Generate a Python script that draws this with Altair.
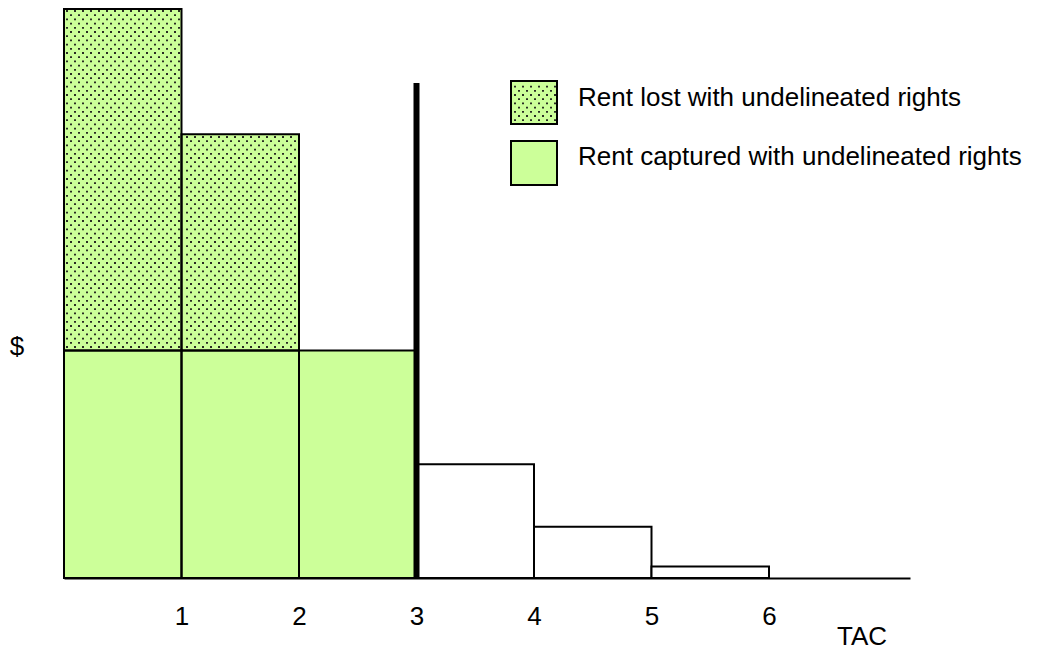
import altair as alt
import pandas as pd
import numpy as np

# ---- data ----
tac_left = [0, 1, 2, 3, 4, 5]
tac_right = [1, 2, 3, 4, 5, 6]
rent_total = [100, 78, 40, 20, 9, 2]
rent_captured = [40, 40, 40, 0, 0, 0]
tac_limit = [3]
limit_top = [87]
tick_values = [1, 2, 3, 4, 5, 6]
legend_labels = ["Rent lost with undelineated rights",
                 "Rent captured with undelineated rights"]

# ---- layout ----
W, H = 846, 569
XMAX, YMAX = 7.2, 100
GREEN = "#CCFF99"
FONT = "Liberation Sans"

bars = pd.DataFrame({"left": tac_left, "right": tac_right,
                     "total": rent_total, "captured": rent_captured})
captured = bars[bars.captured > 0].assign(y0=0, y1=lambda d: d.captured)
lost = bars[(bars.captured > 0) & (bars.total > bars.captured)].assign(
    y0=lambda d: d.captured, y1=lambda d: d.total)
open_bars = bars[bars.captured == 0].assign(y0=0, y1=lambda d: d.total)
limit = pd.DataFrame({"x": tac_limit, "y0": [0], "y1": limit_top})

def px(x):
    return x * W / XMAX

def py(y):
    return (YMAX - y) * H / YMAX

def ux(p):
    return p * XMAX / W

def uy(p):
    return YMAX - p * YMAX / H

# stipple texture (style only) clipped to the hatched regions
def stipple(x0, x1, y0, y1, m=1.5):
    pts = []
    k = 0
    r = 2.0
    while r < H + 200:
        off = 4.0 if k % 2 else 0.0
        c = 3.0 + off
        while c < W + 200:
            if x0 + m < c < x1 - m and y0 + m < r < y1 - m:
                pts.append((ux(c), uy(r)))
            c += 8.0
        r += 4.2
        k += 1
    return pts

dots = []
for _, b in lost.iterrows():
    dots += stipple(px(b.left), px(b.right), py(b.y1), py(b.y0))
# legend swatches (pixel boxes within the plot area)
LG1 = (447, 493, 72, 115)
LG2 = (447, 493, 132, 176)
dots += stipple(*LG1)
dots_df = pd.DataFrame(dots, columns=["x", "y"])

xs = alt.Scale(domain=[0, XMAX], nice=False, zero=False)
ys = alt.Scale(domain=[0, YMAX], nice=False, zero=False)

xaxis = alt.Axis(values=tick_values, ticks=False, tickSize=0, grid=False,
                 domainColor="black", domainWidth=2, labelFontSize=26,
                 labelFont=FONT, labelColor="black", labelPadding=25,
                 title=None, format="d")

fill_cap = alt.Chart(captured).mark_rect(fill=GREEN, strokeWidth=0).encode(
    x=alt.X("left:Q", scale=xs, axis=xaxis), x2="right:Q",
    y=alt.Y("y0:Q", scale=ys, axis=None), y2="y1:Q")
fill_lost = alt.Chart(lost).mark_rect(fill=GREEN, strokeWidth=0).encode(
    x="left:Q", x2="right:Q", y="y0:Q", y2="y1:Q")
dot_layer = alt.Chart(dots_df).mark_square(size=3.4, color="#1a1a1a", opacity=1).encode(
    x="x:Q", y="y:Q")
outline_cap = alt.Chart(captured).mark_rect(fillOpacity=0, stroke="black", strokeWidth=2).encode(
    x="left:Q", x2="right:Q", y="y0:Q", y2="y1:Q")
outline_lost = alt.Chart(lost).mark_rect(fillOpacity=0, stroke="black", strokeWidth=2).encode(
    x="left:Q", x2="right:Q", y="y0:Q", y2="y1:Q")
open_layer = alt.Chart(open_bars).mark_rect(fill="white", stroke="black", strokeWidth=2).encode(
    x="left:Q", x2="right:Q", y="y0:Q", y2="y1:Q")
limit_layer = alt.Chart(limit).mark_rule(color="black", strokeWidth=6).encode(
    x="x:Q", y="y0:Q", y2="y1:Q")

one = alt.Data(values=[{"a": 1}])

def box(b, fill=None, stroke=True):
    kw = dict(fill=fill) if fill else dict(fillOpacity=0)
    if stroke:
        kw.update(stroke="black", strokeWidth=2)
    else:
        kw.update(strokeWidth=0)
    return alt.Chart(one).mark_rect(**kw).encode(
        x=alt.value(b[0]), x2=alt.value(b[1]), y=alt.value(b[2]), y2=alt.value(b[3]))

lg1_fill = box(LG1, fill=GREEN, stroke=False)
lg1_out = box(LG1)
lg2 = box(LG2, fill=GREEN)

def label(txt, x, y, align="left", size=26):
    return alt.Chart(one).mark_text(text=txt, align=align, baseline="middle",
                                    font=FONT, fontSize=size, color="black").encode(
        x=alt.value(x), y=alt.value(y))

t1 = label(legend_labels[0], 514, 89)
t2 = label(legend_labels[1], 514, 148)
tdollar = label("$", -47, 338, align="center")
ttac = label("TAC", 798, 628, align="center")

chart = alt.layer(
    fill_cap, fill_lost, lg1_fill, dot_layer, outline_cap, outline_lost,
    open_layer, limit_layer, lg1_out, lg2, t1, t2, tdollar, ttac
).properties(
    width=W, height=H,
    background="white",
    autosize=alt.AutoSizeParams(type="none"),
    padding={"left": 56, "top": 1, "right": 120, "bottom": 80},
).configure_view(stroke="transparent", strokeWidth=0)

chart.save("out.html", embed_options={"renderer": "svg", "actions": False})
